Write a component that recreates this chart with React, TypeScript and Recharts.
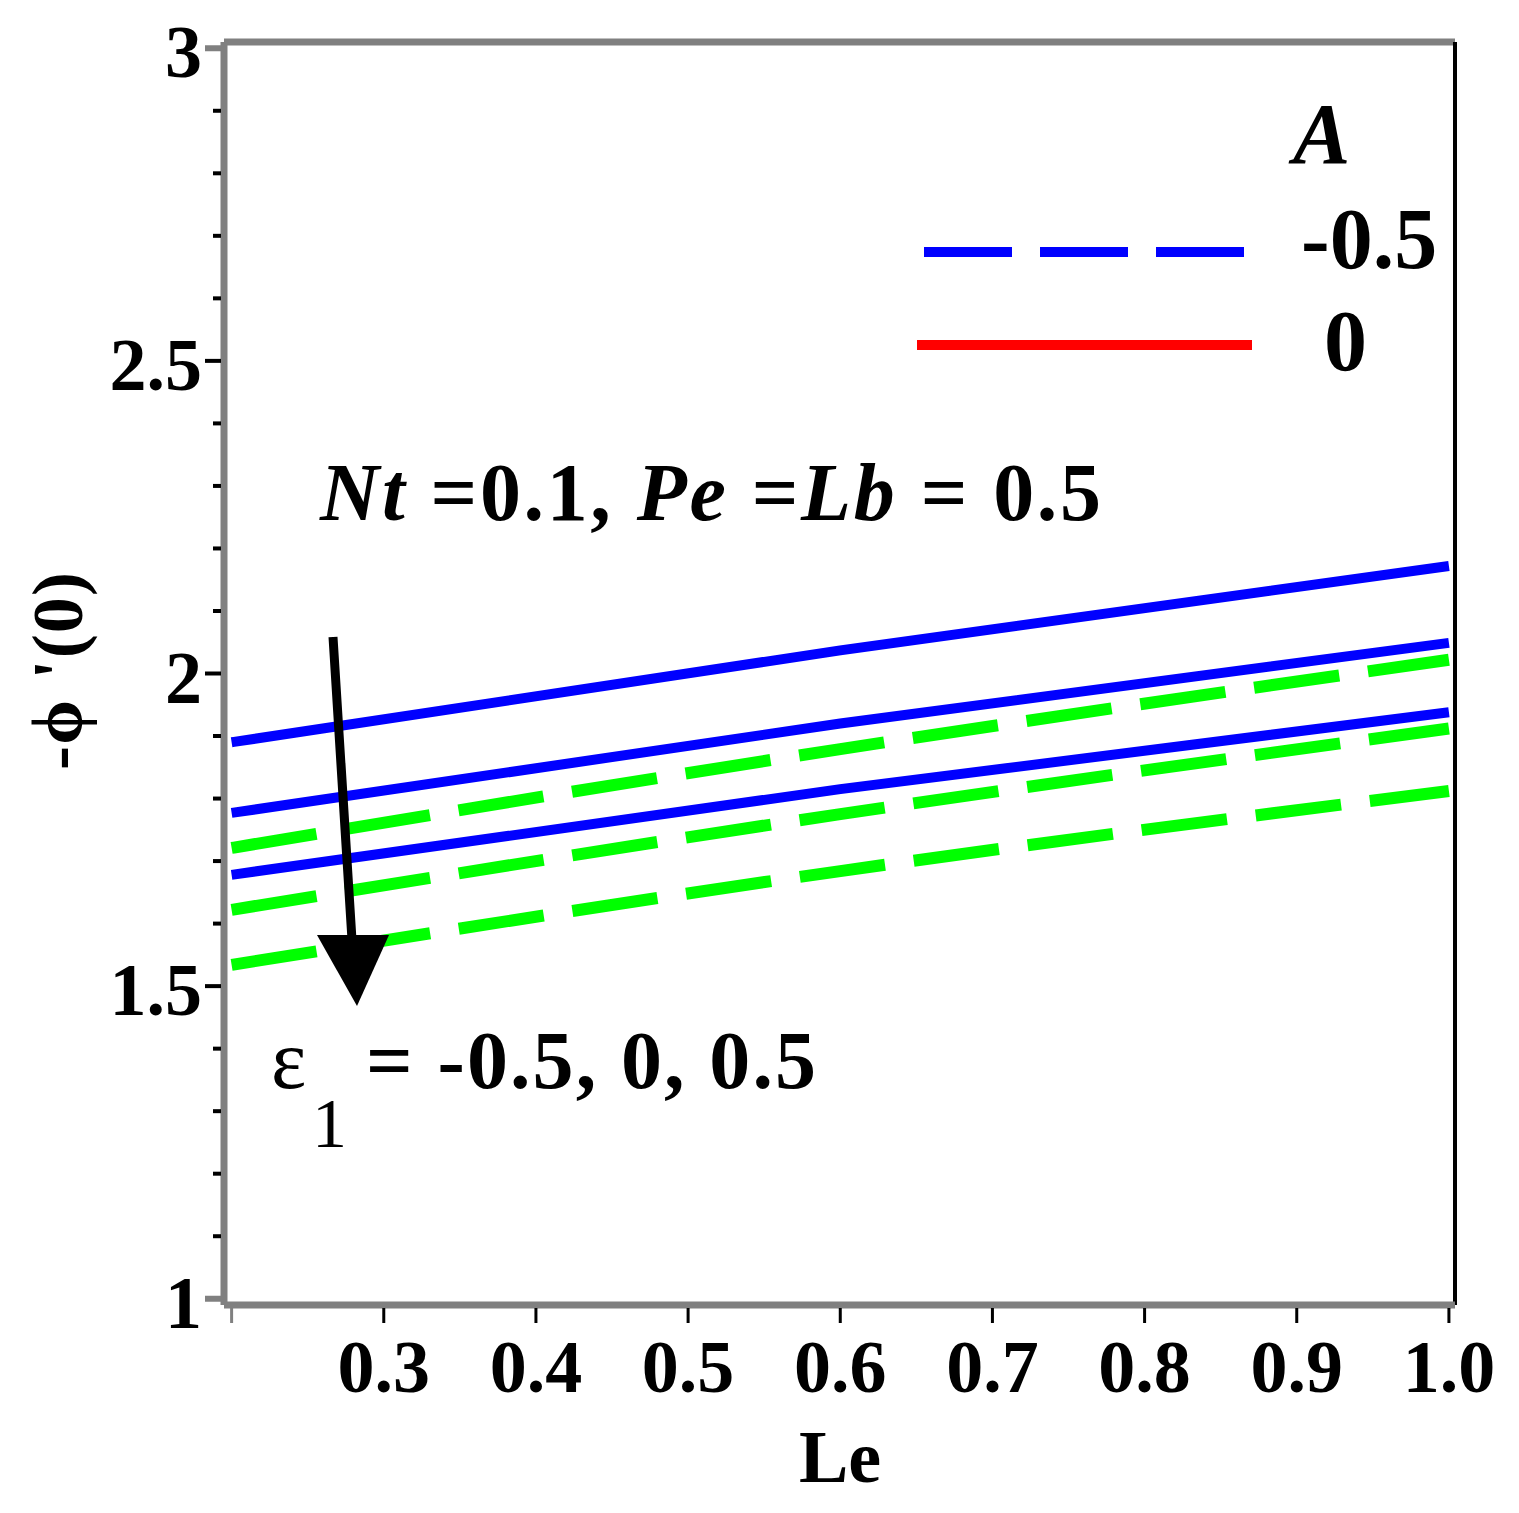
import React from 'react';
import { LineChart, Line, XAxis, YAxis, ReferenceLine } from 'recharts';

const leValues = [0.2, 0.6, 1.0];

// blue solid curves, top to bottom (eps1 = -0.5, 0, 0.5)
const solidTop = [1.89, 2.037, 2.172];
const solidMid = [1.777, 1.92, 2.049];
const solidLow = [1.678, 1.815, 1.938];

// green dashed curves, top to bottom (eps1 = -0.5, 0, 0.5)
const dashedTop = [1.721, 1.879, 2.022];
const dashedMid = [1.622, 1.775, 1.912];
const dashedLow = [1.534, 1.684, 1.812];

const xTicks = [0.2, 0.3, 0.4, 0.5, 0.6, 0.7, 0.8, 0.9, 1.0];
const xTickLabels = ['', '0.3', '0.4', '0.5', '0.6', '0.7', '0.8', '0.9', '1.0'];
const yTicks = [1, 1.1, 1.2, 1.3, 1.4, 1.5, 1.6, 1.7, 1.8, 1.9, 2, 2.1, 2.2, 2.3, 2.4, 2.5, 2.6, 2.7, 2.8, 2.9, 3];
const yTickLabels = ['1', '1.5', '2', '2.5', '3'];

const legendTitle = 'A';
const legendLabels = ['-0.5', '0'];
const legendColors = ['#0000ff', '#ff0000'];

const SERIF = "'Liberation Serif', 'Times New Roman', serif";
const BLUE = '#0000ff';
const GREEN = '#00ff00';
const GRAY = '#808080';

const series = [
  { key: 'solidTop', values: solidTop, color: BLUE, dash: undefined, width: 10 },
  { key: 'solidMid', values: solidMid, color: BLUE, dash: undefined, width: 10 },
  { key: 'solidLow', values: solidLow, color: BLUE, dash: undefined, width: 10 },
  { key: 'dashedTop', values: dashedTop, color: GREEN, dash: '86 29', width: 12 },
  { key: 'dashedMid', values: dashedMid, color: GREEN, dash: '86 29', width: 12 },
  { key: 'dashedLow', values: dashedLow, color: GREEN, dash: '86 29', width: 12 },
];

const data = leValues.map((le, i) => {
  const row: Record<string, number> = { le };
  series.forEach(s => {
    row[s.key] = s.values[i];
  });
  return row;
});

function YTick(props: any) {
  const { x, y, payload } = props;
  const v = payload.value as number;
  const label = yTickLabels.find(l => Math.abs(parseFloat(l) - v) < 1e-9);
  const edge = v === 1 || v === 3;
  return (
    <g>
      <line
        x1={x - (label ? 19 : 11)}
        x2={x - 3}
        y1={y}
        y2={y}
        stroke={edge ? GRAY : '#000'}
        strokeWidth={edge ? 6 : 4}
      />
      {label && (
        <text x={x - 22} y={y} dy={29} textAnchor="end" fontSize={74} fontWeight="bold" fontFamily={SERIF} fill="#000">
          {label}
        </text>
      )}
    </g>
  );
}

function XTick(props: any) {
  const { x, y, payload, index } = props;
  const label = xTickLabels[index] ?? '';
  const first = payload.value === xTicks[0];
  return (
    <g>
      <line x1={x} x2={x} y1={y + 3} y2={y + 18} stroke={first ? GRAY : '#000'} strokeWidth={3} />
      {label && (
        <text x={x} y={y} dy={87} textAnchor="middle" fontSize={74} fontWeight="bold" fontFamily={SERIF} fill="#000">
          {label}
        </text>
      )}
    </g>
  );
}

export default function App() {
  return (
    <div style={{ position: 'relative', width: 1519, height: 1513, background: '#fff' }}>
      <style>{'body{margin:0}'}</style>
      <LineChart width={1519} height={1513} data={data} margin={{ top: 42, right: 64, bottom: 0, left: 0 }}>
        <XAxis
          dataKey="le"
          type="number"
          domain={[0.195, 1.004]}
          allowDataOverflow
          ticks={xTicks}
          interval={0}
          height={208}
          tickSize={0}
          tickMargin={0}
          tickLine={false}
          axisLine={{ stroke: GRAY, strokeWidth: 7 }}
          tick={<XTick />}
        />
        <YAxis
          type="number"
          domain={[0.99, 3.01]}
          allowDataOverflow
          ticks={yTicks}
          interval={0}
          width={224}
          tickSize={0}
          tickMargin={0}
          tickLine={false}
          axisLine={{ stroke: GRAY, strokeWidth: 7 }}
          tick={<YTick />}
        />
        <ReferenceLine y={3.01} stroke={GRAY} strokeWidth={7} />
        <ReferenceLine x={1.004} stroke="#000" strokeWidth={4} />
        {series.map(s => (
          <Line
            key={s.key}
            dataKey={s.key}
            type="monotone"
            stroke={s.color}
            strokeWidth={s.width}
            strokeDasharray={s.dash}
            strokeLinecap="butt"
            dot={false}
            activeDot={false}
            isAnimationActive={false}
          />
        ))}
      </LineChart>

      <svg
        width={1519}
        height={1513}
        style={{ position: 'absolute', left: 0, top: 0, pointerEvents: 'none' }}
        fontFamily={SERIF}
      >
        {/* legend */}
        <text x={1293} y={163} fontSize={86} fontWeight="bold" fontStyle="italic">{legendTitle}</text>
        <line x1={924} x2={1244} y1={252} y2={252} stroke={legendColors[0]} strokeWidth={10} strokeDasharray="88 28" />
        <text x={1301} y={268} fontSize={86} fontWeight="bold">{legendLabels[0]}</text>
        <line x1={917} x2={1252} y1={345} y2={345} stroke={legendColors[1]} strokeWidth={10} />
        <text x={1324} y={370} fontSize={86} fontWeight="bold">{legendLabels[1]}</text>

        {/* parameters */}
        <text x={320} y={520} fontSize={82} fontWeight="bold" textLength={781} lengthAdjust="spacing" xmlSpace="preserve">
          <tspan fontStyle="italic">Nt</tspan>
          {' =0.1, '}
          <tspan fontStyle="italic">Pe</tspan>
          {' ='}
          <tspan fontStyle="italic">Lb</tspan>
          {' = 0.5'}
        </text>

        {/* arrow */}
        <line x1={333} y1={637} x2={352} y2={940} stroke="#000" strokeWidth={9} />
        <polygon points="317,935 389,935 357,1006" fill="#000" />

        {/* epsilon annotation */}
        <text x={271} y={1088} fontSize={84}>ε</text>
        <text x={312} y={1147} fontSize={70}>1</text>
        <text x={366} y={1088} fontSize={82} fontWeight="bold" textLength={450} lengthAdjust="spacing" xmlSpace="preserve">
          = -0.5, 0, 0.5
        </text>

        {/* axis titles */}
        <text x={82} y={671} fontSize={72} fontWeight="bold" textAnchor="middle" transform="rotate(-90 82 671)" textLength={198} lengthAdjust="spacing" xmlSpace="preserve">
          -ϕ '(0)
        </text>
        <text x={840} y={1482} fontSize={74} fontWeight="bold" textAnchor="middle">Le</text>
      </svg>
    </div>
  );
}
